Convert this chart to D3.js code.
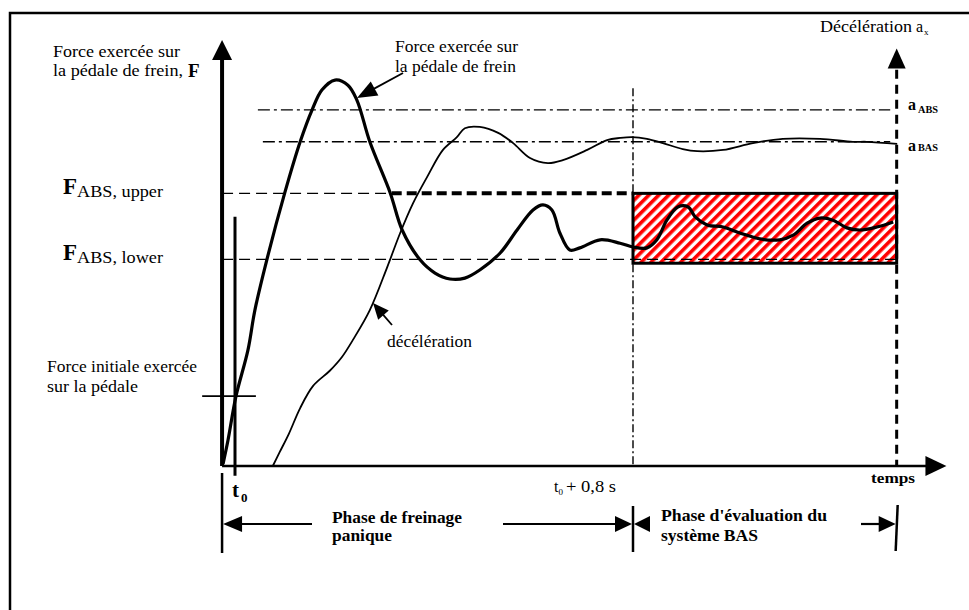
<!DOCTYPE html>
<html>
<head>
<meta charset="utf-8">
<script src="https://cdn.jsdelivr.net/npm/d3@7"></script>
<style>
  body { margin: 0; background: #fff; }
</style>
</head>
<body>
<svg id="chart" width="969" height="610"></svg>
<script>
// temps en ms après t0, force / décélération en % de la hauteur de l'axe
var forceT = [-24,-14,2,26,40,64,100,131,155,175,201,227,245,271,312,336,372,402,432,462,492,533,567,599,619,637,653,673,693,734,774,800,828,848,868,890,911,925,949,981,1015,1055,1095,1122,1150,1176,1202,1230,1256,1290,1323]
var forceV = [0.5,6.1,16.4,27.2,36.6,48.4,64.1,76.1,83.6,88.3,90.6,89.4,85.9,76.1,64.1,55.4,48.4,45.3,43.9,44.1,46.0,50.0,55.4,60.1,61.3,60.1,54.7,50.7,51.2,53.1,52.3,51.4,51.2,53.1,57.7,60.8,60.8,58.5,56.6,56.1,54.7,53.3,53.1,54.2,57.0,58.2,57.7,55.9,55.4,56.1,57.3]
var decelT = [76,90,108,131,157,190,215,237,271,306,332,358,386,418,446,462,492,529,559,593,629,659,708,748,774,798,828,860,900,929,981,1041,1101,1176,1242,1270,1331]
var decelV = [0,3.3,7.5,13.6,18.8,22.3,25.6,29.6,36.6,46.7,54.7,61.7,67.8,74.2,77.2,79.3,79.6,78.2,75.8,72.3,71.1,71.8,74.2,76.5,77.0,77.2,76.8,75.8,74.4,73.9,74.2,75.8,76.8,76.8,76.1,76.1,75.6]

var levelF = [64, 48.5]          // F ABS upper, F ABS lower
var levelA = [83.6, 76.1]        // a ABS, a BAS
var forceInit = 16.4
var phaseT = [0, 800, 1330]      // t0, t0 + 0,8 s, fin de l'évaluation
var axisT = [-26, 1430]
var axisV = [0, 100]
var boxV = [47.6, 64]

var svg = d3.select("#chart")
var x = d3.scaleLinear().domain([0, 800]).range([235, 633])
var y = d3.scaleLinear().domain([0, 100]).range([466, 40])

// cadre
svg.append("rect").attr("x", 10).attr("y", 13).attr("width", 1000).attr("height", 700)
   .attr("fill", "none").attr("stroke", "#000").attr("stroke-width", 2.5)

// hachures rouges
var pat = svg.append("defs").append("pattern").attr("id", "hatch")
   .attr("patternUnits", "userSpaceOnUse").attr("width", 7).attr("height", 7)
   .attr("patternTransform", "rotate(45)")
pat.append("rect").attr("width", 7).attr("height", 7).attr("fill", "#fff")
pat.append("rect").attr("width", 3.6).attr("height", 7).attr("fill", "#ff0000")

function seg(x1, y1, x2, y2, w, dash) {
  var l = svg.append("line").attr("x1", x1).attr("y1", y1).attr("x2", x2).attr("y2", y2)
     .attr("stroke", "#000").attr("stroke-width", w)
  if (dash) l.attr("stroke-dasharray", dash)
  return l
}
function head(tx, ty, fx, fy, len, half) {
  var dx = tx - fx, dy = ty - fy, d = Math.sqrt(dx*dx + dy*dy)
  var ux = dx/d, uy = dy/d
  var bx = tx - ux*len, by = ty - uy*len
  svg.append("polygon").attr("fill", "#000")
     .attr("points", [[tx, ty], [bx - uy*half, by + ux*half], [bx + uy*half, by - ux*half]].join(" "))
}
function arrow(x1, y1, x2, y2, w, len, half) {
  var dx = x2 - x1, dy = y2 - y1, d = Math.sqrt(dx*dx + dy*dy)
  seg(x1, y1, x2 - dx/d*(len-2), y2 - dy/d*(len-2), w)
  head(x2, y2, x1, y1, len, half)
}
function txt(px, py, s, size, bold, len) {
  var t = svg.append("text").attr("x", px).attr("y", py).text(s)
     .style("font-family", "'Liberation Serif'")
     .style("font-size", size + "px").style("font-weight", bold ? "bold" : "normal")
  if (len) t.attr("textLength", len).attr("lengthAdjust", "spacingAndGlyphs")
  return t
}

// zone d'évaluation
svg.append("rect")
   .attr("x", x(phaseT[1])).attr("y", y(boxV[1]))
   .attr("width", x(phaseT[2]) - x(phaseT[1])).attr("height", y(boxV[0]) - y(boxV[1]))
   .attr("fill", "url(#hatch)")

// niveaux
seg(x(46), y(levelA[0]), x(1317), y(levelA[0]), 1.4, "12,4,3,4")
seg(x(56), y(levelA[1]), x(1317), y(levelA[1]), 1.4, "12,4,3,4")
seg(x(axisT[0]), y(levelF[0]), x(315), y(levelF[0]), 1.4, "11,6")
seg(x(315), y(levelF[0]), x(phaseT[1]), y(levelF[0]), 4, "10,5")
seg(x(axisT[0]), y(levelF[1]), x(phaseT[2]), y(levelF[1]), 1.4, "11,6")

svg.append("rect")
   .attr("x", x(phaseT[1])).attr("y", y(boxV[1]))
   .attr("width", x(phaseT[2]) - x(phaseT[1])).attr("height", y(boxV[0]) - y(boxV[1]))
   .attr("fill", "none").attr("stroke", "#000").attr("stroke-width", 3)

// verticales
seg(x(phaseT[1]), y(88.7), x(phaseT[1]), y(0), 1.4, "8,3,2,3")
seg(x(phaseT[2]), y(93), x(phaseT[2]), y(0), 3, "9,6")
head(x(phaseT[2]), y(98), x(phaseT[2]), y(50), 20, 9)
seg(x(phaseT[0]), y(58.5), x(phaseT[0]), y(-2.3), 3)
seg(x(-66), y(forceInit), x(42), y(forceInit), 1.8)

// courbes
var line = d3.line().x(function(d){ return x(d[0]) }).y(function(d){ return y(d[1]) })
   .curve(d3.curveCatmullRom.alpha(0.5))
svg.append("path").datum(d3.zip(decelT, decelV)).attr("d", line)
   .attr("fill", "none").attr("stroke", "#000").attr("stroke-width", 1.8)
svg.append("path").datum(d3.zip(forceT, forceV)).attr("d", line)
   .attr("fill", "none").attr("stroke", "#000").attr("stroke-width", 3.2)

// axes
seg(x(axisT[0]), y(0), x(axisT[1]) - 18, y(0), 2.5)
head(x(axisT[1]), y(0), 0, y(0), 21, 10)
seg(x(axisT[0]), y(0), x(axisT[0]), y(axisV[1]) + 18, 4)
head(x(axisT[0]), y(axisV[1]), x(axisT[0]), 500, 20, 10)

// phases
seg(x(axisT[0]), 473, x(axisT[0]), 553, 2.5)
seg(x(phaseT[1]), 506, x(phaseT[1]), 552, 2.5)
seg(x(phaseT[2]) + 1, 505, x(phaseT[2]) - 1, 551, 2.5)
arrow(312, 524, x(axisT[0]) + 1, 524, 2.2, 19, 8)
arrow(503, 524, x(phaseT[1]) - 1, 524, 2.2, 17, 8)
head(x(phaseT[1]) + 1, 524, 700, 524, 16, 8)
arrow(861, 524, x(phaseT[2]) - 1, 524, 2.2, 17, 8)

// pointeurs
arrow(403, 73, 357, 98, 1.8, 20, 8)
arrow(392, 325, 373, 303, 1.8, 16, 7)

// textes
txt(53, 57, "Force exercée sur", 16, false, 127)
txt(53, 76, "la pédale de frein,", 16, false, 130)
txt(188, 77, "F", 19, true)
txt(63, 194, "F", 23, true)
txt(77, 197, "ABS, upper", 16, false, 86)
txt(63, 260, "F", 23, true)
txt(77, 263, "ABS, lower", 16, false, 86)
txt(47, 372, "Force initiale exercée", 16, false, 150)
txt(47, 392, "sur la pédale", 16, false, 91)
txt(395, 52, "Force exercée sur", 16, false, 123)
txt(395, 72, "la pédale de frein", 16, false, 121)
txt(387, 347, "décélération", 16, false, 85)
txt(820, 32, "Décélération", 16, false, 92)
txt(916, 32, "a", 16, false)
txt(924, 35, "x", 9, false)
txt(908, 110, "a", 16, true)
txt(918, 113, "ABS", 10, true, 20)
txt(908, 151, "a", 16, true)
txt(918, 151, "BAS", 11, true, 20)
txt(232, 497, "t", 21, true)
txt(241, 502, "0", 13, true)
txt(554, 492, "t", 16, false)
txt(558.5, 495, "0", 9, false)
txt(566, 492, "+ 0,8 s", 16, false, 50)
txt(871, 483, "temps", 15, true, 44)
txt(332, 523, "Phase de freinage", 16, true, 130)
txt(332, 541, "panique", 16, true, 60)
txt(661, 521, "Phase d'évaluation du", 16, true, 166)
txt(661, 541, "système BAS", 16, true, 97)
</script>
</body>
</html>
